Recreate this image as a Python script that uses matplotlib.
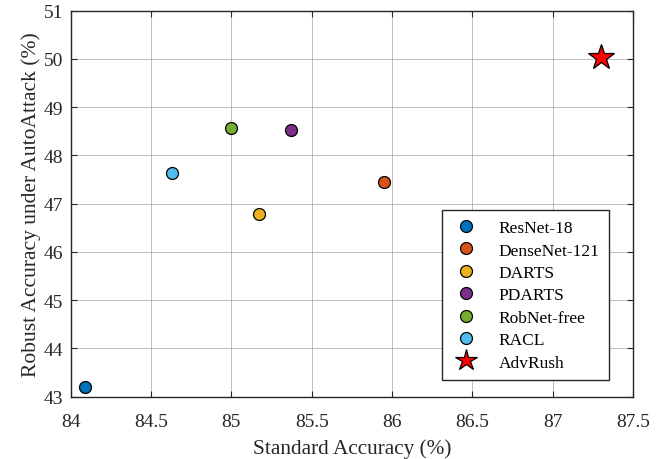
import matplotlib.pyplot as plt

plt.rcParams['font.family'] = ['Liberation Serif', 'DejaVu Serif']

# data
models = ['ResNet-18', 'DenseNet-121', 'DARTS', 'PDARTS', 'RobNet-free', 'RACL']
std_acc = [84.09, 85.95, 85.17, 85.37, 85.00, 84.63]
rob_acc = [43.21, 47.46, 46.78, 48.52, 48.56, 47.64]
colors = ['#0072BD', '#D95319', '#EDB120', '#7E2F8E', '#77AC30', '#4DBEEE']
ours_name = 'AdvRush'
ours_std = 87.30
ours_rob = 50.05

fig = plt.figure(figsize=(6.57, 4.6), dpi=100)
# axes box: x 70.7..633 px, y 11.7..397.7 px
ax = fig.add_axes([0.1076, 0.1354, 0.8558, 0.8391])

for name, x, y, c in zip(models, std_acc, rob_acc, colors):
    ax.plot(x, y, 'o', markersize=8.6, markerfacecolor=c,
            markeredgecolor='black', markeredgewidth=0.9, label=name, zorder=3)
ax.plot(ours_std, ours_rob, '*', markersize=19, markerfacecolor='red',
        markeredgecolor='black', markeredgewidth=0.9, label=ours_name, zorder=3)

ax.set_xlim(84, 87.5)
ax.set_ylim(43, 51)
ax.set_xticks([84, 84.5, 85, 85.5, 86, 86.5, 87, 87.5])
ax.set_xticklabels(['84', '84.5', '85', '85.5', '86', '86.5', '87', '87.5'])
ax.set_yticks(range(43, 52))
ax.grid(True, color='0.55', linewidth=0.7, alpha=0.55)
ax.set_axisbelow(True)
ax.tick_params(direction='in', top=True, right=True, labelsize=14, length=4.5,
               colors='#262626', labelcolor='#262626')
ax.tick_params(axis='x', pad=12)
ax.tick_params(axis='y', pad=5.5)
for s in ax.spines.values():
    s.set_color('#262626')
    s.set_linewidth(1.0)

ax.set_xlabel('Standard Accuracy (%)', fontsize=15.3, color='#262626', labelpad=6)
ax.set_ylabel('Robust Accuracy under AutoAttack (%)', fontsize=15.5, color='#262626',
              labelpad=2)

leg = ax.legend(loc='lower right', bbox_to_anchor=(0.9575, 0.043), borderaxespad=0,
                fontsize=12.5, fancybox=False, edgecolor='#262626', framealpha=1,
                handlelength=1.6, handletextpad=1.1, labelspacing=0.36,
                borderpad=0.55)
leg.get_frame().set_linewidth(1.0)
leg.legend_handles[-1].set_markersize(16)

fig.savefig('out.png', dpi=100)
